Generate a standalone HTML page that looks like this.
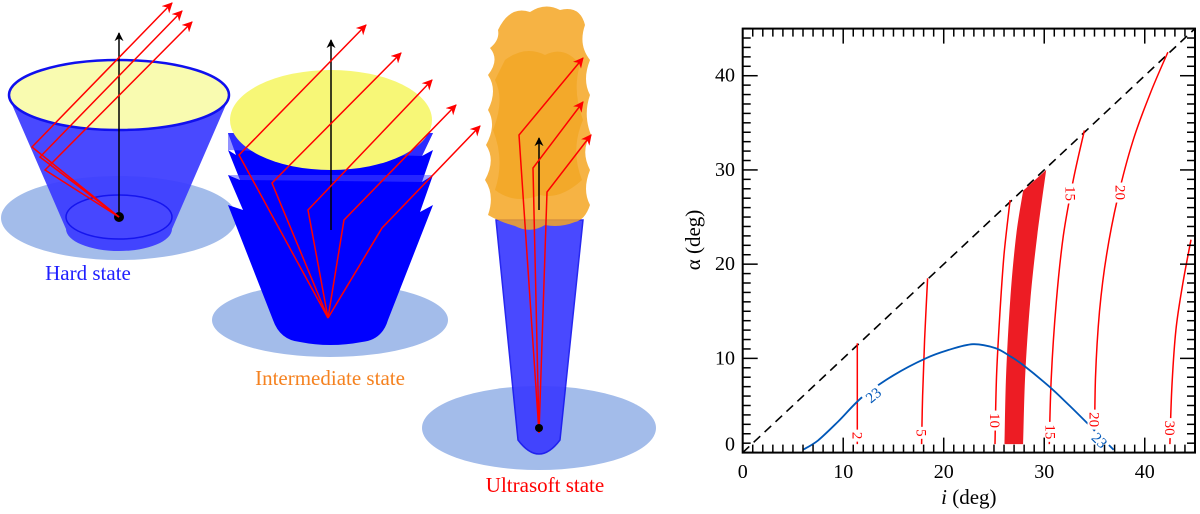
<!DOCTYPE html>
<html><head><meta charset="utf-8"><style>
body{margin:0;background:#fff;width:1200px;height:514px;overflow:hidden;font-family:"Liberation Serif","Times New Roman",Times,serif}
svg{display:block}
svg text{font-family:"Liberation Serif","Times New Roman",Times,serif !important}
</style></head><body>
<svg id="fig" width="1200" height="514" viewBox="0 0 1200 514" style="font-family:'Liberation Serif','Times New Roman',Times,serif">
<defs>
<marker id="ar" viewBox="0 0 10 10" refX="9" refY="5" markerWidth="7" markerHeight="7" orient="auto"><path d="M0,0 L10,5 L0,10 L3,5 z" fill="#f00"/></marker>
<marker id="ak" viewBox="0 0 10 10" refX="9" refY="5" markerWidth="6" markerHeight="7" orient="auto"><path d="M0,0 L10,5 L0,10 L3,5 z" fill="#000"/></marker>
</defs>
<g>
<ellipse cx="119" cy="218" rx="118" ry="42" fill="#a3bcea"/>
<path d="M10,100 L66,229 A53,22 0 0 0 172,229 L228,100 Z" fill="#3a3aff" opacity="0.92"/>
<ellipse cx="119" cy="217" rx="53" ry="22" fill="#4747ff" stroke="#1515ee" stroke-width="1.5"/>
<ellipse cx="119" cy="95" rx="110" ry="35" fill="#f9fbb0" stroke="#1010ee" stroke-width="2.5"/>
<circle cx="119" cy="217" r="5" fill="#000"/>
<line x1="119" y1="217" x2="119" y2="33" stroke="#000" stroke-width="1.5" marker-end="url(#ak)"/>
<polyline points="119,217 32,147 172,3" fill="none" stroke="#f00" stroke-width="1.5" marker-end="url(#ar)"/>
<polyline points="119,217 40,157 182,11" fill="none" stroke="#f00" stroke-width="1.5" marker-end="url(#ar)"/>
<polyline points="119,217 45,170 192,22" fill="none" stroke="#f00" stroke-width="1.5" marker-end="url(#ar)"/>
<text x="88" y="280" font-size="21" fill="#2020ff" text-anchor="middle">Hard state</text>
</g>
<g>
<ellipse cx="330" cy="320" rx="118" ry="37" fill="#a3bcea"/>
<path d="M228,133 L236,155 L228,150 L240,180 L228,175 L243,210 L228,205 L273,320 Q280,340 300,342 Q330,348 362,342 Q382,340 388,320 L433,205 L420,212 L433,175 L422,182 L433,150 L422,156 L433,133 Z" fill="#0000ff"/>
<path d="M228,133 L433,133 L422,156 L228,150 Z" fill="#4a4aff" opacity="0.6"/>
<path d="M228,175 L433,175 L422,182 L240,180 Z" fill="#4a4aff" opacity="0.5"/>
<ellipse cx="331" cy="120" rx="101" ry="50" fill="#f7f777"/>
<line x1="331" y1="230" x2="331" y2="40" stroke="#000" stroke-width="1.5" marker-end="url(#ak)"/>
<polyline points="328,318 239,155 366,25" fill="none" stroke="#f00" stroke-width="1.5" marker-end="url(#ar)"/>
<polyline points="328,318 272,183 401,53" fill="none" stroke="#f00" stroke-width="1.5" marker-end="url(#ar)"/>
<polyline points="328,318 308,210 432,80" fill="none" stroke="#f00" stroke-width="1.5" marker-end="url(#ar)"/>
<polyline points="328,318 344,220 456,105" fill="none" stroke="#f00" stroke-width="1.5" marker-end="url(#ar)"/>
<polyline points="328,318 382,228 480,126" fill="none" stroke="#f00" stroke-width="1.5" marker-end="url(#ar)"/>
<text x="330" y="385" font-size="21" fill="#f58220" text-anchor="middle">Intermediate state</text>
</g>
<g>
<ellipse cx="539" cy="428" rx="117" ry="42" fill="#a3bcea"/>
<path d="M496,220 L583,220 L560,440 Q539,468 518,440 Z" fill="#3a3aff" stroke="#1515ee" stroke-width="1.5" opacity="0.92"/>
<path d="M498,30 Q510,5 530,12 Q545,2 560,10 Q580,5 585,25 Q578,45 590,60 Q582,80 590,95 Q583,115 591,135 Q580,150 590,170 Q582,190 590,205 Q585,220 575,222 Q560,228 545,225 Q530,234 515,226 Q500,222 488,215 Q495,195 485,180 Q496,160 486,145 Q497,125 488,110 Q498,90 488,75 Q500,60 490,48 Q500,40 498,30 Z" fill="#f5a623" opacity="0.85"/>
<path d="M505,60 Q525,45 545,55 Q565,45 580,65 Q572,90 583,120 Q570,150 582,180 Q560,200 540,195 Q515,205 495,190 Q505,160 493,130 Q505,100 495,80 Z" fill="#f0a010" opacity="0.5"/>
<line x1="539" y1="210" x2="539" y2="138" stroke="#000" stroke-width="1.5" marker-end="url(#ak)"/>
<polyline points="539,433 519,135 583,58" fill="none" stroke="#f00" stroke-width="1.5" marker-end="url(#ar)"/>
<polyline points="539,433 533,168 583,102" fill="none" stroke="#f00" stroke-width="1.5" marker-end="url(#ar)"/>
<polyline points="539,433 547,192 591,135" fill="none" stroke="#f00" stroke-width="1.5" marker-end="url(#ar)"/>
<circle cx="539" cy="428" r="4" fill="#000"/>
<text x="545" y="492" font-size="21" fill="#f00" text-anchor="middle">Ultrasoft state</text>
</g>
<g id="chart"></g>
</svg>
<script>
const xTicks=[0,10,20,30,40];
const yTicks=[0,10,20,30,40];
const c2x=[11.4,11.4], c2y=[0.9,11.6];
const c5x=[17.8,17.9,18.1,18.4], c5y=[0.9,6,12,18.5];
const c10x=[25.1,25.25,25.6,26.0,26.6], c10y=[0.9,8,15,21,26.8];
const c15x=[30.5,30.7,31.2,31.9,32.9,34.0], c15y=[0.9,8,16,23,29,34.2];
const c20x=[35.0,35.1,35.5,36.2,37.3,38.8,40.5,42.3], c20y=[0.9,8,15,21,27,33,38,42.5];
const c30x=[42.5,42.7,43.1,43.8,44.6], c30y=[0.9,7,13,18,22.6];
const bandLx=[26.05,26.2,26.6,27.2,27.9], bandLy=[0.9,8,16,23,27.8];
const bandRx=[27.9,28.1,28.6,29.3,30.2], bandRy=[0.9,8,16,23,30.0];
const blueX=[6.0,7.5,9.5,11.9,15,18.2,20.5,22.9,25.1,26.5,27.9,30.5,32.5,34.3,36.9];
const blueY=[0.3,1.3,3.3,5.9,8.2,10,10.9,11.5,11.1,10.3,9.3,7.0,5.0,3.1,0.3];
const labels=[["2",11.4,1.8,"#f00"],["5",17.8,2.1,"#f00"],["10",25.1,3.4,"#f00"],["15",30.6,2.2,"#f00"],["20",35.0,3.5,"#f00"],["30",42.5,2.6,"#f00"],["15",32.6,27.5,"#f00"],["20",37.6,27.6,"#f00"]];
const X0=742.7,X1=1195,Y0=452.6,Y1=28.6;
const sx=v=>X0+(X1-X0)*v/45, sy=v=>Y0-(Y0-Y1)*v/45;
const g=document.getElementById('chart');
const NS='http://www.w3.org/2000/svg';
function mk(t,a){const e=document.createElementNS(NS,t);for(const k in a)e.setAttribute(k,a[k]);g.appendChild(e);return e;}
function smooth(xs,ys){
const P=xs.map((x,i)=>[sx(x),sy(ys[i])]);
let d='M'+P[0][0].toFixed(1)+','+P[0][1].toFixed(1);
for(let i=0;i<P.length-1;i++){
const p0=P[Math.max(i-1,0)],p1=P[i],p2=P[i+1],p3=P[Math.min(i+2,P.length-1)];
const c1=[p1[0]+(p2[0]-p0[0])/6,p1[1]+(p2[1]-p0[1])/6];
const c2=[p2[0]-(p3[0]-p1[0])/6,p2[1]-(p3[1]-p1[1])/6];
d+=` C${c1[0].toFixed(1)},${c1[1].toFixed(1)} ${c2[0].toFixed(1)},${c2[1].toFixed(1)} ${p2[0].toFixed(1)},${p2[1].toFixed(1)}`;
}
return d;}
const bandPath=smooth(bandLx,bandLy)+' L'+smooth(bandRx.slice().reverse(),bandRy.slice().reverse()).slice(1)+' Z';
const band=mk('path',{d:bandPath,fill:'#ed1c24'});


const dl=mk('line',{x1:sx(0),y1:sy(0),x2:sx(45),y2:sy(45),stroke:'#000','stroke-width':1.6,'stroke-dasharray':'9,6'});


const cs=[[c2x,c2y,'contour-2'],[c5x,c5y,'contour-5'],[c10x,c10y,'contour-10'],[c15x,c15y,'contour-15'],[c20x,c20y,'contour-20'],[c30x,c30y,'contour-30']];
for(const [xs,ys,n] of cs){
const p=mk('path',{d:smooth(xs,ys),fill:'none',stroke:'#f00','stroke-width':1.5});


}
const bl=mk('path',{d:smooth(blueX,blueY),fill:'none',stroke:'#0057b8','stroke-width':1.8});


for(const [t,x,y,col] of labels){
const cx=sx(x),cy=sy(y);
const w=t.length>1?20:12;
const r=mk('rect',{x:cx-7,y:cy-w/2,width:14,height:w,fill:'#fff'});


const tx=mk('text',{x:cx,y:cy+5,'font-size':15,fill:col,'text-anchor':'middle',transform:`rotate(90 ${cx} ${cy})`});


tx.textContent=t;
}
for(const [x,y,rot] of [[13.0,6.1,-40],[35.5,1.3,45]]){
const cx=sx(x),cy=sy(y);
const r=mk('rect',{x:cx-10,y:cy-8,width:20,height:16,fill:'#fff',transform:`rotate(${rot} ${cx} ${cy})`});


const tx=mk('text',{x:cx,y:cy+5,'font-size':15,fill:'#0057b8','text-anchor':'middle',transform:`rotate(${rot} ${cx} ${cy})`});


tx.textContent='23';
}
const fr=mk('rect',{x:X0,y:Y1,width:X1-X0,height:Y0-Y1,fill:'none',stroke:'#000','stroke-width':2});


for(let v=0;v<=45;v++){
const L=v%10===0?15:8;
const x=sx(v),y=sy(v);
const a=mk('line',{x1:x,y1:Y0,x2:x,y2:Y0-L,stroke:'#000','stroke-width':1.5});

const b=mk('line',{x1:x,y1:Y1,x2:x,y2:Y1+L,stroke:'#000','stroke-width':1.5});

const c=mk('line',{x1:X0,y1:y,x2:X0+L,y2:y,stroke:'#000','stroke-width':1.5});

const d=mk('line',{x1:X1,y1:y,x2:X1-L,y2:y,stroke:'#000','stroke-width':1.5});

}
for(const v of xTicks){const t=mk('text',{x:sx(v),y:478,'font-size':20,'text-anchor':'middle'});

t.textContent=v;}
for(const v of yTicks){const t=mk('text',{x:735,y:sy(v)+6-(v===0?8:0),'font-size':20,'text-anchor':'end'});

t.textContent=v;}
const xt=mk('text',{x:sx(22.5),y:504,'font-size':21,'text-anchor':'middle'});

xt.innerHTML='<tspan font-style="italic">i</tspan> (deg)';
const yt=mk('text',{x:700,y:240,'font-size':21,'text-anchor':'middle',transform:'rotate(-90 700 240)'});

yt.textContent='α (deg)';
</script>
</body></html>
